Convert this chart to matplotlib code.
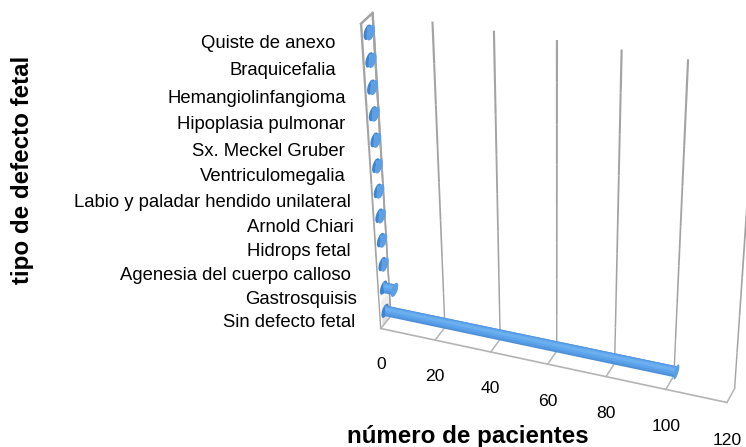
import numpy as np
import matplotlib
matplotlib.use("Agg")
import matplotlib.pyplot as plt
from matplotlib.patches import Ellipse
from matplotlib.transforms import Transform

plt.rcParams['font.family'] = ['Liberation Sans', 'DejaVu Sans']

# ---------- data ----------
categories = ["Sin defecto fetal", "Gastrosquisis", "Agenesia del cuerpo calloso",
              "Hidrops fetal", "Arnold Chiari", "Labio y paladar hendido unilateral",
              "Ventriculomegalia", "Sx. Meckel Gruber", "Hipoplasia pulmonar",
              "Hemangiolinfangioma", "Braquicefalia", "Quiste de anexo"]
patients = [102, 4, 1, 1, 1, 1, 1, 1, 1, 1, 1, 1]
value_ticks = [0, 20, 40, 60, 80, 100, 120]

# ---------- style / layout ----------
label_gap_px = [25, 21, 26, 25, 20, 21, 25, 24, 22, 20, 28, 27]
GRID = '#a3a3a3'
FLOOR = '#b4b4b4'
W, H, DPI = 746, 447, 100
VMAX, HMAX = 120.0, 12.0

# camera calibration of the Excel-style perspective box: (value, height, depth) -> pixel
cal_world = []
cal_pixel = []
front_floor = [(381, 328), (436, 339), (492, 352), (548, 364), (606, 377), (665, 390), (727, 403)]
back_floor = [(389, 315), (445, 328), (500, 340), (557, 352), (615, 363), (673, 376), (735, 387)]
back_top = [(374, 13), (433, 22), (494, 31), (557, 40), (622, 49), (688, 59), (756, 69)]
for k, v in enumerate(value_ticks):
    cal_world += [(v, 0, 0), (v, 0, 1), (v, HMAX, 1)]
    cal_pixel += [front_floor[k], back_floor[k], back_top[k]]
cal_world.append((0, HMAX, 0))
cal_pixel.append((359, 24))


def fit_camera(world, pixel):
    rows = []
    for (v, h, d), (x, y) in zip(world, pixel):
        X = np.array([v / VMAX, h / HMAX, d, 1.0])
        x, y = x / 500.0, y / 500.0
        rows.append(np.r_[X, np.zeros(4), -x * X])
        rows.append(np.r_[np.zeros(4), X, -y * X])
    _, _, vt = np.linalg.svd(np.array(rows))
    P = vt[-1].reshape(3, 4)
    return np.diag([500.0, 500.0, 1.0]) @ P @ np.diag([1 / VMAX, 1 / HMAX, 1.0, 1.0])


CAMERA = fit_camera(cal_world, cal_pixel)


class PlaneTransform(Transform):
    """Homography from a plane of the 3-D box to pixel coordinates."""
    input_dims = output_dims = 2
    is_separable = False
    has_inverse = False

    def __init__(self, mat):
        super().__init__()
        self.mat = mat

    def transform_non_affine(self, values):
        values = np.asarray(values, float)
        q = np.c_[values, np.ones(len(values))] @ self.mat.T
        return q[:, :2] / q[:, 2:3]


fig = plt.figure(figsize=(W / DPI, H / DPI), dpi=DPI, facecolor='white')
ax = fig.add_axes([0, 0, 1, 1])
ax.set_autoscale_on(False)
ax.set_xlim(0, W)
ax.set_ylim(H, 0)
ax.axis('off')


def value_height(depth):
    M = np.array([[1, 0, 0], [0, 1, 0], [0, 0, depth], [0, 0, 1.0]])
    return PlaneTransform(CAMERA @ M) + ax.transData


def value_depth(height):
    M = np.array([[1, 0, 0], [0, 0, height], [0, 1, 0], [0, 0, 1.0]])
    return PlaneTransform(CAMERA @ M) + ax.transData


def depth_height(value):
    M = np.array([[0, 0, value], [0, 1, 0], [1, 0, 0], [0, 0, 1.0]])
    return PlaneTransform(CAMERA @ M) + ax.transData


back = value_height(1.0)
front = value_height(0.0)
mid = value_height(0.5)
floor = value_depth(0.0)
side = depth_height(0.0)

# walls: tapering strokes, heavier towards the top as in the original
heights = np.linspace(0, HMAX, 9)
for v in value_ticks:
    for k in range(len(heights) - 1):
        ax.plot([v, v], heights[k:k + 2], color=GRID, lw=1.0 + 0.08 * k, transform=back,
                solid_capstyle='butt', zorder=1)
    if v:
        ax.plot([v, v], [0, 1], color=FLOOR, lw=1.1, transform=floor, zorder=1)
# left wall
for k in range(len(heights) - 1):
    for dd in (0, 1):
        ax.plot([dd, dd], heights[k:k + 2], color=GRID, lw=1.0 + 0.1 * k, transform=side,
                solid_capstyle='butt', zorder=1)
ax.plot([0, 1], [HMAX, HMAX], color=GRID, lw=1.8, transform=side, zorder=1)
ax.plot([0, 1], [0, 0], color=FLOOR, lw=1.1, transform=side, zorder=1)
# soft shadow on the left wall behind the lowest bar
for a, top in zip((0.03, 0.04, 0.05), (1.5, 1.1, 0.7)):
    ax.fill_between([0.15, 1.0], 0, top, color='black', alpha=a, linewidth=0, transform=side, zorder=0.5)
# floor front edge
ax.plot([0, VMAX], [0, 0], color=FLOOR, lw=1.2, transform=floor, zorder=1)

# cylinders
y = np.arange(len(categories)) + 0.5
BAR_H = 0.48
CAP_W = 0.72
layers = [(0.0, 1.0, '#4c8dd6'), (0.05, 0.88, '#5398e2'), (0.10, 0.62, '#5ea4ea'), (0.16, 0.30, '#6bafef')]
for i in range(len(categories) - 1, -1, -1):
    zb = 3 + (len(categories) - i) * 0.1
    ax.add_patch(Ellipse((0.5, y[i]), CAP_W, BAR_H, transform=depth_height(0.0), fc='#3f84d0',
                         ec='none', zorder=zb))
    for off, frac, col in layers:
        ax.barh(y[i] + off * BAR_H, patients[i], height=frac * BAR_H, left=0, color=col,
                linewidth=0, transform=mid, zorder=zb)
    ax.add_patch(Ellipse((0.5, y[i]), CAP_W, BAR_H, transform=depth_height(patients[i]), fc='#5c9fe2',
                         ec='none', zorder=zb + 0.05))

# category labels
for i, name in enumerate(categories):
    ax.annotate(name, xy=(0, y[i]), xycoords=front,
                xytext=(-label_gap_px[i] * 0.72, -5.5 * 0.72), textcoords='offset points',
                ha='right', va='center', fontsize=13.3, color='black', zorder=6)

# value labels
for v in value_ticks:
    ax.annotate(str(v), xy=(v, 0), xycoords=front, xytext=(0, -(36 + v / 70) * 0.72),
                textcoords='offset points', ha='center', va='center', fontsize=12.6,
                color='black', zorder=6)

ax.text(468, 436, "número de pacientes", ha='center', va='center', fontsize=17.4,
        fontweight='bold', color='black')
ax.text(23, 170, "tipo de defecto fetal", ha='center', va='center', rotation=90, fontsize=17.4,
        fontweight='bold', color='black')

fig.savefig('out.png', dpi=DPI, facecolor='white')
